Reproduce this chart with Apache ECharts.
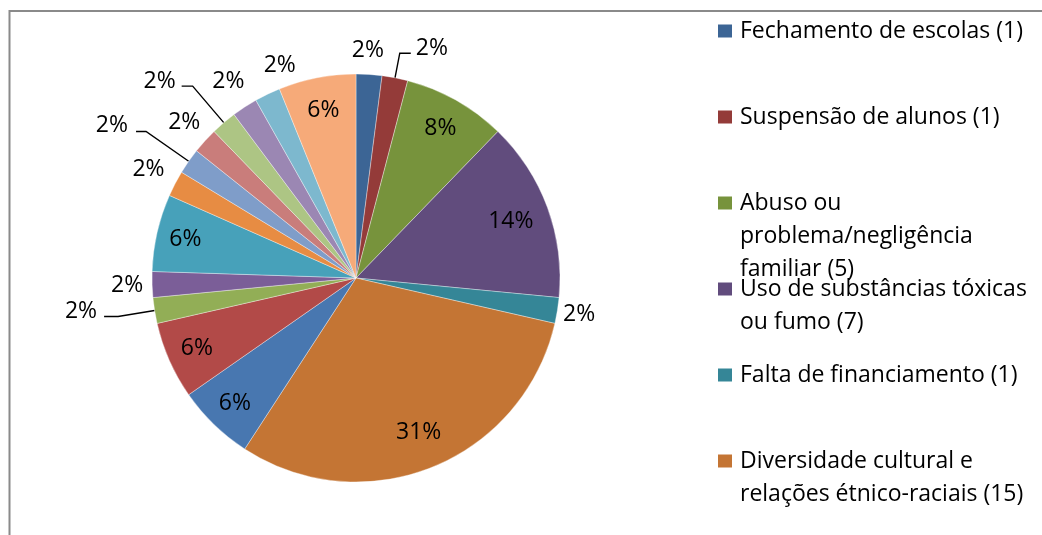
<!DOCTYPE html>
<html>
<head>
<meta charset="utf-8">
<script src="https://cdn.jsdelivr.net/npm/echarts@6/dist/echarts.min.js"></script>
<style>
  html, body { margin: 0; padding: 0; background: #fff; }
  #chart { width: 1042px; height: 535px; }
</style>
</head>
<body>
<div id="chart"></div>
<script>
// ---- data ----
const categories = [
  'Fechamento de escolas (1)',
  'Suspensão de alunos (1)',
  'Abuso ou problema/negligência familiar (5)',
  'Uso de substâncias tóxicas ou fumo (7)',
  'Falta de financiamento (1)',
  'Diversidade cultural e relações étnico-raciais (15)',
  'Categoria 7', 'Categoria 8', 'Categoria 9', 'Categoria 10', 'Categoria 11',
  'Categoria 12', 'Categoria 13', 'Categoria 14', 'Categoria 15', 'Categoria 16',
  'Categoria 17', 'Categoria 18'
];
const values = [1, 1, 4, 7, 1, 15, 3, 3, 1, 1, 3, 1, 1, 1, 1, 1, 1, 3];
const legendCategories = categories.slice(0, 6);
const legendLabels = [
  'Fechamento de escolas (1)',
  'Suspensão de alunos (1)',
  'Abuso ou\nproblema/negligência\nfamiliar (5)',
  'Uso de substâncias tóxicas\nou fumo (7)',
  'Falta de financiamento (1)',
  'Diversidade cultural e\nrelações étnico-raciais (15)'
];

// ---- styles ----
const colors = ['#3C6595', '#943B39', '#77933C', '#614C7D', '#358697', '#C47534',
  '#4877B0', '#B24A48', '#92AE56', '#7B5E98', '#47A1BA', '#E78C43',
  '#7F9DC9', '#C97D7B', '#ADC584', '#9B87B3', '#7DB8CE', '#F6AA79'];
const FONT = '"Open Sans", Lato, sans-serif';
const CX = 356, CY = 278, R = 204;
// label placement style per slice
const labelPlace = [
  { t: 'out', r: 228, da: -0.7 },
  { t: 'line', r2: 229, l2: 11, gap: 5, dy: -5 },
  { t: 'in', r: 172 },
  { t: 'in', r: 165 },
  { t: 'out', r: 226, da: 0 },
  { t: 'in', r: 167 },
  { t: 'in', r: 174 },
  { t: 'in', r: 174 },
  { t: 'line', r2: 241, l2: 14, gap: 7, dy: -5 },
  { t: 'out', r: 229, da: 0 },
  { t: 'in', r: 175 },
  { t: 'out', r: 234, da: 0 },
  { t: 'line', r2: 256, l2: 10, gap: 8, dy: -6 },
  { t: 'out', r: 232, da: 0 },
  { t: 'line', r2: 252, l2: 11, gap: 6, dy: -5 },
  { t: 'out', r: 234, da: 0 },
  { t: 'out', r: 226, da: 6 },
  { t: 'in', r: 171 }
];

const total = values.reduce((a, b) => a + b, 0);
const mids = [];
(function () {
  let acc = 0;
  values.forEach(v => { mids.push((acc + v / 2) / total * 360); acc += v; });
})();
function pt(deg, r) {
  const a = deg * Math.PI / 180;
  return [CX + r * Math.sin(a), CY - r * Math.cos(a)];
}

const pieData = values.map((v, i) => {
  const p = labelPlace[i];
  return {
    name: categories[i],
    value: v,
    itemStyle: { color: colors[i] },
    label: { position: p.t === 'in' ? 'inside' : 'outside' },
    labelLine: { show: p.t === 'line' }
  };
});

const chart = echarts.init(document.getElementById('chart'), null, { renderer: 'canvas' });
const LH = 33, Y0 = 31, STEP = 86, ICON_W = 17;
const legends = legendCategories.map((name, i) => {
  const lines = legendLabels[i].split('\n').length;
  const h = lines * LH;
  // square marker (14x13) aligned with the first text line
  const top = (LH - 13) / 2;
  const icon = 'path://M0,0M' + ICON_W + ',' + h + 'M0,' + top + 'H14V' + (top + 13) + 'H0Z';
  return {
    orient: 'vertical',
    left: 718,
    top: Y0 + i * STEP - LH / 2,
    padding: 0,
    itemWidth: ICON_W,
    itemHeight: h,
    itemGap: 0,
    icon: icon,
    symbolKeepAspect: false,
    itemStyle: { borderWidth: 0 },
    data: [name],
    formatter: () => legendLabels[i],
    textStyle: { fontFamily: FONT, fontSize: 23, color: '#000', lineHeight: LH }
  };
});

chart.setOption({
  animation: false,
  backgroundColor: '#fff',
  graphic: [{
    type: 'rect',
    shape: { x: 9.5, y: 11, width: 1200, height: 700 },
    style: { fill: 'none', stroke: '#8a8a8a', lineWidth: 2 },
    silent: true
  }],
  legend: legends,
  series: [{
    type: 'pie',
    center: [CX, CY],
    radius: R,
    startAngle: 90,
    clockwise: true,
    avoidLabelOverlap: false,
    data: pieData,
    itemStyle: { borderColor: 'rgba(255,255,255,0.6)', borderWidth: 0.6 },
    label: {
      show: true,
      fontFamily: FONT,
      fontSize: 23,
      color: '#000',
      formatter: p => Math.round(p.value / total * 100) + '%'
    },
    labelLine: { lineStyle: { color: '#000', width: 1.4 } },
    emphasis: { scale: false },
    labelLayout: function (params) {
      const i = params.dataIndex;
      const p = labelPlace[i];
      if (p.t === 'line') {
        const m = mids[i];
        const p1 = pt(m, R);
        const p2 = pt(m, p.r2);
        const side = p2[0] < CX ? -1 : 1;
        const p3 = [p2[0] + side * p.l2, p2[1]];
        return {
          x: p3[0] + side * p.gap,
          y: p3[1] + p.dy,
          align: side < 0 ? 'right' : 'left',
          verticalAlign: 'middle',
          labelLinePoints: [p1, p2, p3]
        };
      }
      const c = pt(mids[i] + (p.da || 0), p.r);
      return { x: c[0], y: c[1], align: 'center', verticalAlign: 'middle' };
    }
  }]
});
</script>
</body>
</html>
